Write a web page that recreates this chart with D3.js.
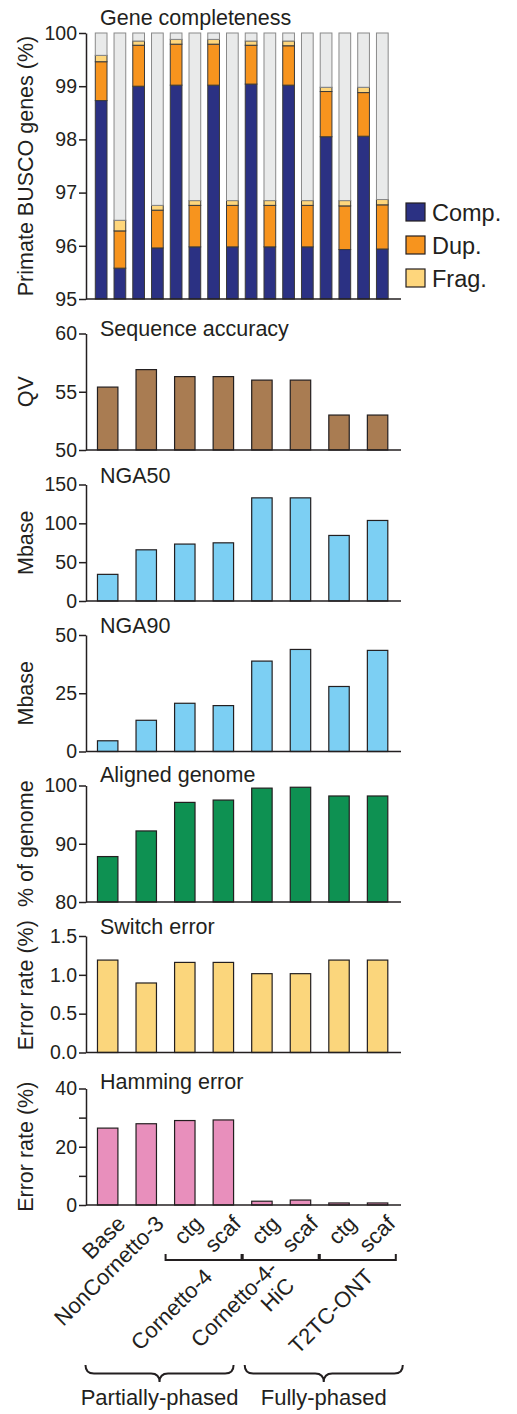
<!DOCTYPE html>
<meta charset="utf-8">
<style>
    body { margin: 0; background: #fff; }
    text {
        font-family: "Liberation Sans", Arial, Helvetica, sans-serif;
        fill: #231f20;
    }
    .axis path, .axis line {
        stroke: #231f20;
        stroke-width: 1.5px;
    }
    .axis text { font-size: 19.5px; fill: #231f20; }
    .title, .ylabel { font-size: 21.5px; }
    .xlab { font-size: 22px; }
    .legend text { font-size: 23.5px; }
    .bar { stroke: #231f20; stroke-width: 1.2px; }
    .bracket { fill: none; stroke: #231f20; stroke-width: 2px; }
</style>

<body>
    <svg width="517" height="1414"></svg>
</body>

<script src="https://d3js.org/d3.v7.min.js"></script>
<script>

    // ---- data ----
    var samples = ["Base", "NonCornetto-3", "Cornetto-4 ctg", "Cornetto-4 scaf",
                   "Cornetto-4-HiC ctg", "Cornetto-4-HiC scaf", "T2TC-ONT ctg", "T2TC-ONT scaf"];
    var sampleLabels = ["Base", "NonCornetto-3", "ctg", "scaf", "ctg", "scaf", "ctg", "scaf"];

    // BUSCO: two haplotypes per sample
    var buscoBars = ["Base 1", "Base 2", "NonCornetto-3 1", "NonCornetto-3 2",
                     "Cornetto-4 ctg 1", "Cornetto-4 ctg 2", "Cornetto-4 scaf 1", "Cornetto-4 scaf 2",
                     "Cornetto-4-HiC ctg 1", "Cornetto-4-HiC ctg 2", "Cornetto-4-HiC scaf 1", "Cornetto-4-HiC scaf 2",
                     "T2TC-ONT ctg 1", "T2TC-ONT ctg 2", "T2TC-ONT scaf 1", "T2TC-ONT scaf 2"];
    var buscoComp = [98.73, 95.58, 99.00, 95.96, 99.02, 95.98, 99.02, 95.98,
                     99.04, 95.98, 99.02, 95.98, 98.05, 95.93, 98.06, 95.94];
    var buscoDup  = [0.73, 0.70, 0.77, 0.71, 0.77, 0.78, 0.77, 0.78,
                     0.73, 0.78, 0.74, 0.78, 0.85, 0.82, 0.82, 0.83];
    var buscoFrag = [0.12, 0.20, 0.08, 0.09, 0.09, 0.09, 0.09, 0.09,
                     0.08, 0.09, 0.09, 0.09, 0.08, 0.10, 0.10, 0.10];
    var legendNames = ["Comp.", "Dup.", "Frag."];

    var qv        = [55.4, 56.9, 56.3, 56.3, 56.0, 56.0, 53.0, 53.0];
    var nga50     = [34.3, 65.9, 73.3, 74.9, 132.8, 132.8, 84.4, 103.7];
    var nga90     = [4.6, 13.4, 20.7, 19.7, 38.8, 43.8, 27.9, 43.4];
    var aligned   = [87.8, 92.2, 97.1, 97.5, 99.55, 99.7, 98.2, 98.2];
    var switchErr = [1.19, 0.895, 1.16, 1.16, 1.015, 1.015, 1.19, 1.19];
    var hamming   = [26.4, 27.9, 29.0, 29.2, 1.3, 1.7, 0.7, 0.7];

    var groupLabels = [["Cornetto-4"], ["Cornetto-4-", "HiC"], ["T2TC-ONT"]];
    var phaseLabels = ["Partially-phased", "Fully-phased"];

    // ---- layout ----
    var svg = d3.select("svg");
    var axisX = 86, rightX = 401, panelH = 116.5;

    var x16 = d3.scaleBand().domain(buscoBars).range([axisX, rightX])
            .paddingInner(0.375).paddingOuter(0.59).align(0.42);
    var x8 = d3.scaleBand().domain(samples).range([axisX, rightX])
            .paddingInner(0.47).paddingOuter(0.32).align(0.465);

    // draw the y axis, baseline, title and y label of one panel
    function frame(y, top, bottom, opts) {
        var ax = d3.axisLeft(y).tickValues(opts.ticks).tickSize(7).tickPadding(2).tickSizeOuter(0);
        if (opts.fmt) ax.tickFormat(opts.fmt);
        svg.append("g").attr("class", "axis")
                .attr("transform", "translate(" + axisX + ",0)")
                .call(ax);
        svg.append("line")
                .attr("x1", axisX).attr("x2", rightX)
                .attr("y1", bottom).attr("y2", bottom)
                .style("stroke", "#231f20").style("stroke-width", 1.5);
        svg.append("text").attr("class", "title")
                .attr("x", 100).attr("y", top + (opts.titleDy || 0))
                .text(opts.title);
        svg.append("text").attr("class", "ylabel")
                .attr("transform", "translate(33," + ((top + bottom) / 2 + (opts.labelShift || 0)) + ") rotate(-90)")
                .style("text-anchor", "middle")
                .text(opts.ylabel);
    }

    // ---- gene completeness (stacked) ----
    var buscoTop = 33, buscoBottom = 299;
    var yB = d3.scaleLinear().domain([95, 100]).range([buscoBottom, buscoTop]).clamp(true);
    var rows = buscoBars.map(function (b, i) {
        return {
            id: b, comp: buscoComp[i], dup: buscoDup[i], frag: buscoFrag[i],
            miss: 100 - buscoComp[i] - buscoDup[i] - buscoFrag[i]
        };
    });
    var keys = ["comp", "dup", "frag", "miss"];
    var colors = {comp: "#2b3183", dup: "#f7941e", frag: "#fed67c", miss: "#e9eaea"};
    var stacked = d3.stack().keys(keys)(rows);

    svg.append("g").selectAll("g")
            .data(stacked)
            .enter().append("g")
            .style("fill", function (s) { return colors[s.key]; })
            .style("stroke", function (s) { return s.key === "miss" ? "#8a8a8a" : "#3a3a3a"; })
            .style("stroke-width", 1)
            .selectAll("rect")
            .data(function (s) { return s; })
            .enter().append("rect")
            .attr("x", function (d) { return x16(d.data.id); })
            .attr("width", x16.bandwidth())
            .attr("y", function (d) { return yB(d[1]); })
            .attr("height", function (d) { return yB(d[0]) - yB(d[1]); });

    frame(yB, buscoTop, buscoBottom, {
        ticks: [95, 96, 97, 98, 99, 100], fmt: d3.format("d"), title: "Gene completeness",
        ylabel: "Primate BUSCO genes (%)", titleDy: -8
    });

    // legend
    var legend = svg.append("g").attr("class", "legend");
    legendNames.forEach(function (name, i) {
        var ly = 203 + i * 33;
        legend.append("rect")
                .attr("x", 406).attr("y", ly).attr("width", 19).attr("height", 18)
                .style("fill", colors[keys[i]])
                .style("stroke", "#231f20").style("stroke-width", 1.2);
        legend.append("text").attr("x", 432).attr("y", ly + 18).text(name);
    });

    // ---- simple bar panels ----
    var panels = [
        {title: "Sequence accuracy", ylabel: "QV", values: qv, domain: [50, 60], ticks: [50, 55, 60],
            top: 333.5, color: "#a97c52", titleDy: 2},
        {title: "NGA50", ylabel: "Mbase", values: nga50, domain: [0, 150], ticks: [0, 50, 100, 150],
            top: 484.5, color: "#7ccff3", titleDy: -2},
        {title: "NGA90", ylabel: "Mbase", values: nga90, domain: [0, 50], ticks: [0, 25, 50],
            top: 635, color: "#7ccff3", titleDy: -2},
        {title: "Aligned genome", ylabel: "% of genome", values: aligned, domain: [80, 100], ticks: [80, 90, 100],
            top: 785.5, color: "#0e9152", titleDy: -4},
        {title: "Switch error", ylabel: "Error rate (%)", values: switchErr, domain: [0, 1.5], ticks: [0, 0.5, 1, 1.5],
            fmt: d3.format(".1f"), top: 936, color: "#fbd67c", titleDy: -2, labelShift: -9},
        {title: "Hamming error", ylabel: "Error rate (%)", values: hamming, domain: [0, 40], ticks: [0, 10, 20, 30, 40],
            fmt: function (d) { return d % 20 === 0 ? d : ""; }, top: 1088.5, color: "#e88fbc", titleDy: 0}
    ];

    panels.forEach(function (p) {
        var bottom = p.top + panelH;
        var y = d3.scaleLinear().domain(p.domain).range([bottom, p.top]);

        svg.append("g").selectAll("rect")
                .data(p.values)
                .enter().append("rect")
                .attr("class", "bar")
                .style("fill", p.color)
                .attr("x", function (d, i) { return x8(samples[i]); })
                .attr("width", x8.bandwidth())
                .attr("y", function (d) { return y(d); })
                .attr("height", function (d) { return bottom - y(d); });

        frame(y, p.top, bottom, p);
    });

    // ---- x labels ----
    var labY = 1225;
    svg.append("g").selectAll("text")
            .data(sampleLabels)
            .enter().append("text")
            .attr("class", "xlab")
            .style("text-anchor", "end")
            .attr("transform", function (d, i) {
                var cx = x8(samples[i]) + x8.bandwidth() / 2;
                return "translate(" + (cx + 19) + "," + labY + ") rotate(-45)";
            })
            .text(function (d) { return d; });

    // small brackets under ctg/scaf pairs
    var groupPairs = [[2, 3], [4, 5], [6, 7]];
    var groupShift = [10, -2, 17];
    groupPairs.forEach(function (pr, i) {
        var x1 = x8(samples[pr[0]]) - 9, x2 = x8(samples[pr[1]]) + x8.bandwidth() + 8;
        svg.append("path").attr("class", "bracket")
                .attr("d", "M" + x1 + ",1254V1260H" + x2 + "V1254");
        var t = svg.append("text").attr("class", "xlab")
                .style("text-anchor", "end")
                .attr("transform", "translate(" + ((x1 + x2) / 2 + groupShift[i]) + "," + (i === 1 ? 1270 : 1278) + ") rotate(-45)");
        groupLabels[i].forEach(function (line, j) {
            t.append("tspan").attr("x", 0).attr("dy", j === 0 ? 0 : "1.1em").text(line);
        });
    });

    // curly braces for phasing
    function brace(x1, x2, y, h) {
        var m = (x1 + x2) / 2, r = h / 2;
        return "M" + x1 + "," + y +
                "Q" + x1 + "," + (y + r) + " " + (x1 + r) + "," + (y + r) +
                "L" + (m - r) + "," + (y + r) +
                "Q" + m + "," + (y + r) + " " + m + "," + (y + h) +
                "Q" + m + "," + (y + r) + " " + (m + r) + "," + (y + r) +
                "L" + (x2 - r) + "," + (y + r) +
                "Q" + x2 + "," + (y + r) + " " + x2 + "," + y;
    }
    var phaseRanges = [[0, 3], [4, 7]];
    var phasePad = [[-12, 0], [-7, 15]];
    phaseRanges.forEach(function (pr, i) {
        var x1 = x8(samples[pr[0]]) + phasePad[i][0];
        var x2 = x8(samples[pr[1]]) + x8.bandwidth() + phasePad[i][1];
        svg.append("path").attr("class", "bracket").attr("d", brace(x1, x2, 1365, 17));
        svg.append("text").attr("class", "xlab")
                .attr("x", (x1 + x2) / 2).attr("y", 1405)
                .style("text-anchor", "middle")
                .text(phaseLabels[i]);
    });

</script>
